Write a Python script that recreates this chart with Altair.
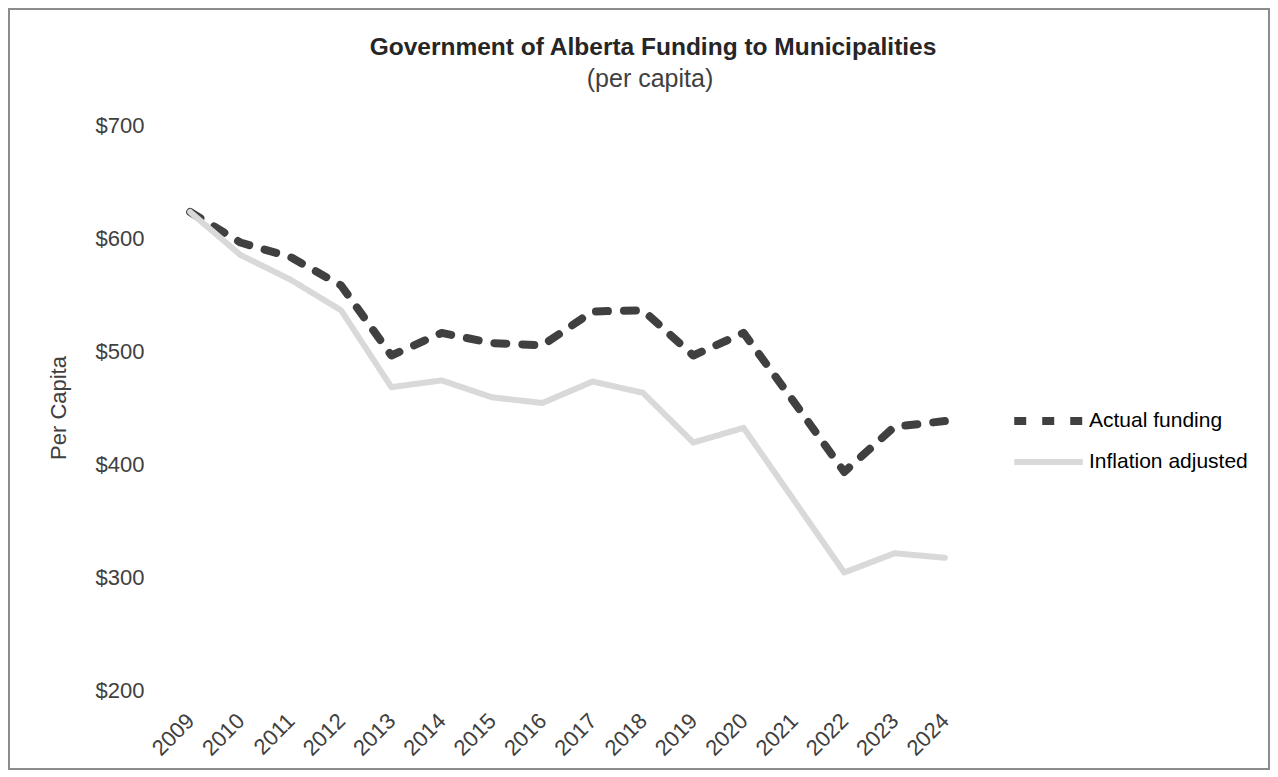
import altair as alt
import pandas as pd

years = [str(y) for y in range(2009, 2025)]
actual = [623, 596, 583, 558, 496, 516, 507, 505, 535, 536, 496, 516, 455, 393, 433, 438]
inflation = [623, 585, 563, 536, 468, 474, 459, 454, 473, 463, 419, 432, 368, 304, 321, 317]
series_names = ["Actual funding", "Inflation adjusted"]
title_text = ["Government of Alberta Funding to Municipalities"]
subtitle_text = ["(per capita)"]

rows = []
for y, a, i in zip(years, actual, inflation):
    rows.append({"Year": y, "Series": series_names[0], "Value": a})
    rows.append({"Year": y, "Series": series_names[1], "Value": i})
df = pd.DataFrame(rows)

W, H = 805, 565
PAD_L, PAD_T = 157, 117
TOTAL_W, TOTAL_H = 1262, 762

base_font = "Liberation Sans"
text_color = "#404040"

legend_cfg = dict(title=None, orient="none", legendX=845, legendY=286,
                  symbolType="stroke", symbolSize=4700, symbolStrokeWidth=7,
                  labelFontSize=21, labelColor="#000000", labelFont=base_font,
                  rowPadding=20, clipHeight=20, labelOffset=2, padding=0)

lines = alt.Chart(df).mark_line(strokeCap="round", strokeJoin="round").encode(
    x=alt.X("Year:N", sort=years, scale=alt.Scale(type="point", padding=0.5),
            axis=alt.Axis(title=None, labelAngle=-45, labelAlign="right", labelBaseline="middle",
                          labelPadding=27, labelFontSize=22, labelColor=text_color,
                          domain=False, ticks=False, grid=False, labelFont=base_font)),
    y=alt.Y("Value:Q", scale=alt.Scale(domain=[200, 700], nice=False, zero=False),
            axis=alt.Axis(title="Per Capita", values=[200, 300, 400, 500, 600, 700], format="$,.0f",
                          domain=False, ticks=False, grid=False, labelPadding=21,
                          labelFontSize=22, labelColor=text_color, titleFontSize=22,
                          titleFontWeight="normal", titleColor=text_color, titlePadding=25,
                          labelFont=base_font, titleFont=base_font)),
    color=alt.Color("Series:N", scale=alt.Scale(domain=series_names, range=["#404040", "#d9d9d9"]),
                    legend=alt.Legend(**legend_cfg)),
    strokeDash=alt.StrokeDash("Series:N", scale=alt.Scale(domain=series_names, range=[[12, 16], [1, 0]]),
                              legend=alt.Legend(**legend_cfg)),
    strokeWidth=alt.StrokeWidth("Series:N", scale=alt.Scale(domain=series_names, range=[8, 6]), legend=None),
)

frame = alt.Chart(pd.DataFrame({"f": [0]})).mark_rect(fill=None, stroke="#8c8c8c", strokeWidth=2).encode(
    x=alt.value(-PAD_L + 1), x2=alt.value(TOTAL_W - PAD_L - 1),
    y=alt.value(-PAD_T + 1), y2=alt.value(TOTAL_H - PAD_T - 1),
)

title = alt.Chart(pd.DataFrame({"t": title_text})).mark_text(
    font=base_font, fontSize=24.5, fontWeight="bold", color="#262626", align="center", baseline="middle"
).encode(text="t:N", x=alt.value(488), y=alt.value(-77))

subtitle = alt.Chart(pd.DataFrame({"t": subtitle_text})).mark_text(
    font=base_font, fontSize=25, color=text_color, align="center", baseline="middle"
).encode(text="t:N", x=alt.value(485), y=alt.value(-46))

chart = alt.layer(frame, title, subtitle, lines).properties(
    width=W, height=H,
    background="white",
    autosize=alt.AutoSizeParams(type="none"),
    padding={"left": PAD_L, "top": PAD_T, "right": TOTAL_W - PAD_L - W, "bottom": TOTAL_H - PAD_T - H},
).configure_view(stroke=None)

chart.save("out.html", embed_options={"renderer": "svg", "actions": False})
